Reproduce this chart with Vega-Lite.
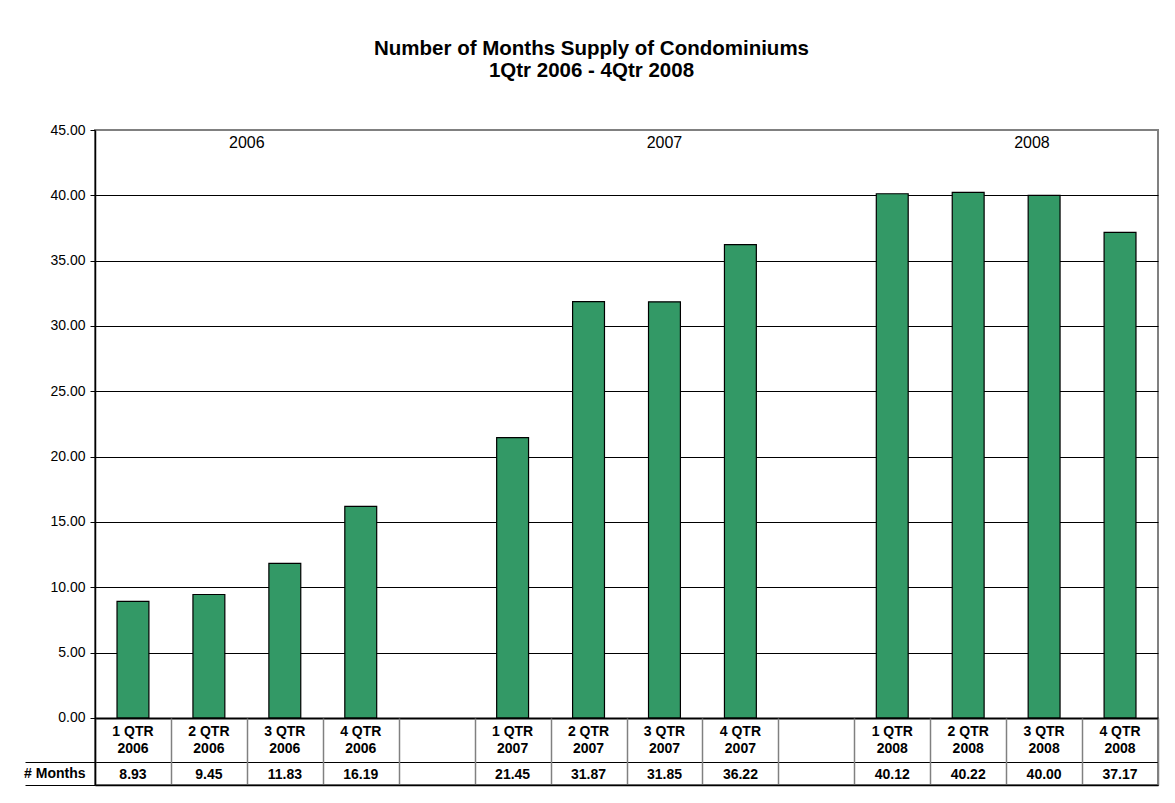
{
  "$schema": "https://vega.github.io/schema/vega-lite/v6.json",
  "width": 1063,
  "height": 655,
  "autosize": {"type": "none"},
  "padding": {"left": 95, "top": 130, "right": 17, "bottom": 18},
  "background": "white",
  "config": {
    "font": "Liberation Sans",
    "view": {"stroke": "#808080", "strokeWidth": 2}
  },
  "title": {
    "text": ["Number of Months Supply of Condominiums", "1Qtr 2006 - 4Qtr 2008"],
    "fontSize": 20.5,
    "fontWeight": "bold",
    "font": "Liberation Sans",
    "color": "black",
    "anchor": "middle",
    "frame": "group",
    "lineHeight": 22,
    "offset": 42,
    "dx": -35
  },
  "data": {
    "values": [
      {"q": "1 QTR\n2006", "months": 8.93},
      {"q": "2 QTR\n2006", "months": 9.45},
      {"q": "3 QTR\n2006", "months": 11.83, "year": "2006"},
      {"q": "4 QTR\n2006", "months": 16.19},
      {"q": "gap1"},
      {"q": "1 QTR\n2007", "months": 21.45},
      {"q": "2 QTR\n2007", "months": 31.87},
      {"q": "3 QTR\n2007", "months": 31.85, "year": "2007"},
      {"q": "4 QTR\n2007", "months": 36.22},
      {"q": "gap2"},
      {"q": "1 QTR\n2008", "months": 40.12},
      {"q": "2 QTR\n2008", "months": 40.22},
      {"q": "3 QTR\n2008", "months": 40.00, "year": "2008"},
      {"q": "4 QTR\n2008", "months": 37.17}
    ]
  },
  "encoding": {
    "x": {
      "field": "q",
      "type": "nominal",
      "sort": null,
      "scale": {
        "domain": ["1 QTR\n2006", "2 QTR\n2006", "3 QTR\n2006", "4 QTR\n2006", "gap1", "1 QTR\n2007", "2 QTR\n2007", "3 QTR\n2007", "4 QTR\n2007", "gap2", "1 QTR\n2008", "2 QTR\n2008", "3 QTR\n2008", "4 QTR\n2008"],
        "paddingInner": 0,
        "paddingOuter": 0
      },
      "axis": {
        "orient": "bottom",
        "title": null,
        "labels": false,
        "grid": false,
        "tickBand": "extent",
        "tickSize": -67,
        "tickColor": "#808080",
        "tickWidth": 1.5,
        "domainColor": "black",
        "domainWidth": 1.5
      }
    }
  },
  "layer": [
    {
      "mark": {"type": "bar", "width": {"band": 0.42}, "fill": "#339966", "stroke": "black", "strokeWidth": 1.2},
      "encoding": {
        "y": {
          "field": "months",
          "type": "quantitative",
          "scale": {"domain": [-5.13, 45], "nice": false, "zero": false},
          "axis": {
            "title": null,
            "values": [0, 5, 10, 15, 20, 25, 30, 35, 40, 45, -3.37, -4.28, -5.13],
            "labelExpr": "datum.value < -4 && datum.value > -4.5 ? '# Months' : (datum.value < 0 ? '' : format(datum.value, '.2f'))",
            "labelFontSize": 14,
            "labelFontWeight": {"condition": {"test": "datum.value < 0", "value": "bold"}, "value": "normal"},
            "labelColor": "black",
            "labelPadding": 5,
            "tickSize": {"condition": {"test": "datum.value < -3 && (datum.value < -4.5 || datum.value > -4)", "value": 70}, "value": 5},
            "tickOpacity": {"condition": {"test": "datum.value < -4 && datum.value > -4.5", "value": 0}, "value": 1},
            "tickColor": "black",
            "domainColor": "black",
            "domainWidth": 1.5,
            "grid": true,
            "gridColor": {"condition": {"test": "datum.value == 45", "value": "#808080"}, "value": "black"},
            "gridWidth": {"condition": {"test": "datum.value == 0", "value": 2}, "value": 1},
            "gridOpacity": {"condition": {"test": "datum.value < -4 && datum.value > -4.5", "value": 0}, "value": 1}
          }
        }
      }
    },
    {
      "transform": [{"filter": "datum.months != null"}],
      "mark": {"type": "text", "lineBreak": "\n", "fontSize": 14, "fontWeight": "bold", "lineHeight": 17, "baseline": "middle", "align": "center", "color": "black"},
      "encoding": {
        "text": {"field": "q"},
        "y": {"datum": -1.07, "type": "quantitative"}
      }
    },
    {
      "transform": [{"filter": "datum.months != null"}],
      "mark": {"type": "text", "fontSize": 14, "fontWeight": "bold", "baseline": "middle", "align": "center", "color": "black"},
      "encoding": {
        "text": {"field": "months", "type": "quantitative", "format": ".2f"},
        "y": {"datum": -4.35, "type": "quantitative"}
      }
    },
    {
      "transform": [{"filter": "datum.year == '2006'"}],
      "mark": {"type": "text", "fontSize": 16, "baseline": "middle", "align": "center", "color": "black"},
      "encoding": {
        "x": {"field": "q", "type": "nominal", "sort": null, "bandPosition": 0},
        "text": {"field": "year"},
        "y": {"datum": 44.0, "type": "quantitative"}
      }
    },
    {
      "transform": [{"filter": "datum.year == '2007'"}],
      "mark": {"type": "text", "fontSize": 16, "baseline": "middle", "align": "center", "color": "black"},
      "encoding": {
        "x": {"field": "q", "type": "nominal", "sort": null, "bandPosition": 0.5},
        "text": {"field": "year"},
        "y": {"datum": 44.0, "type": "quantitative"}
      }
    },
    {
      "transform": [{"filter": "datum.year == '2008'"}],
      "mark": {"type": "text", "fontSize": 16, "baseline": "middle", "align": "center", "color": "black"},
      "encoding": {
        "x": {"field": "q", "type": "nominal", "sort": null, "bandPosition": 0.34},
        "text": {"field": "year"},
        "y": {"datum": 44.0, "type": "quantitative"}
      }
    }
  ]
}
